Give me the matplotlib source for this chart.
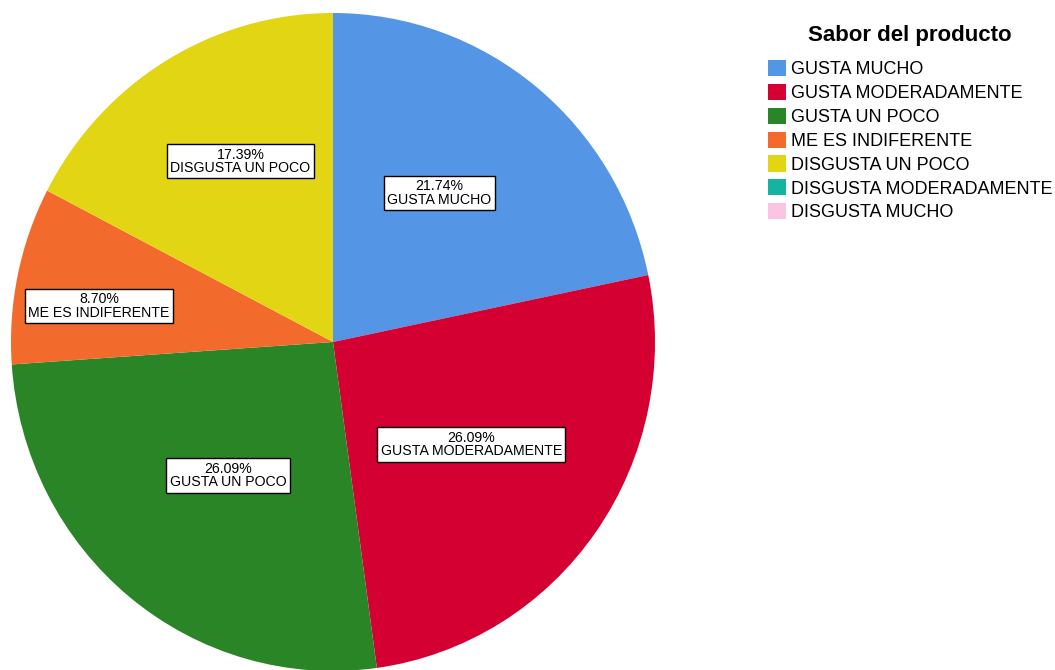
import numpy as np
import matplotlib.pyplot as plt
from matplotlib.patches import Patch

plt.rcParams['font.family'] = ['Liberation Sans', 'DejaVu Sans']

# Sabor del producto - distribución de respuestas (%)
categorias = ['GUSTA MUCHO', 'GUSTA MODERADAMENTE', 'GUSTA UN POCO',
              'ME ES INDIFERENTE', 'DISGUSTA UN POCO',
              'DISGUSTA MODERADAMENTE', 'DISGUSTA MUCHO']
porcentajes = [21.74, 26.09, 26.09, 8.70, 17.39, 0.0, 0.0]
colores = ['#5595e5', '#d50032', '#2a8527', '#f26b2c', '#e2d513',
           '#15b3a0', '#fbc4e2']

# label box placement: distance from centre (fraction of radius) and
# a small angular nudge from the wedge's mid angle (degrees)
dist_etiqueta = [0.56, 0.53, 0.52, 0.735, 0.62, 0.5, 0.5]
giro_etiqueta = [3.0, -0.7, 0.4, 3.2, -3.7, 0, 0]

W, H = 1055, 670
fig = plt.figure(figsize=(W / 100, H / 100), dpi=100)
cx, cy, rx, ry = 333, 342, 322, 329
ax = fig.add_axes([(cx - rx) / W, (H - cy - ry) / H, 2 * rx / W, 2 * ry / H])

wedges, _ = ax.pie(porcentajes, colors=colores, startangle=90,
                   counterclock=False, radius=1,
                   wedgeprops=dict(linewidth=0))
ax.set_xlim(-1, 1)
ax.set_ylim(-1, 1)
ax.set_aspect('auto')
ax.axis('off')

for w, pct, cat, d, g in zip(wedges, porcentajes, categorias,
                             dist_etiqueta, giro_etiqueta):
    if pct <= 0:
        continue
    ang = np.deg2rad((w.theta1 + w.theta2) / 2 + g)
    ax.text(d * np.cos(ang), d * np.sin(ang), f'{pct:.2f}%\n{cat}',
            ha='center', va='center', fontsize=10.2, linespacing=0.95,
            bbox=dict(boxstyle='square,pad=0.25', facecolor='white',
                      edgecolor='black', linewidth=1.0))

# legend: title as separate text, entries below
fig.text(910 / W, 1 - 35 / H, 'Sabor del producto', ha='center',
         va='center', fontsize=16, fontweight='bold')
handles = [Patch(facecolor=c, edgecolor='none') for c in colores]
fig.legend(handles, categorias, loc='upper left',
           bbox_to_anchor=(768 / W, 1 - 60 / H), frameon=False,
           fontsize=13, handlelength=1.0, handleheight=1.0,
           handletextpad=0.3, labelspacing=0.31, borderpad=0,
           borderaxespad=0)

fig.savefig('out.png', dpi=100)
